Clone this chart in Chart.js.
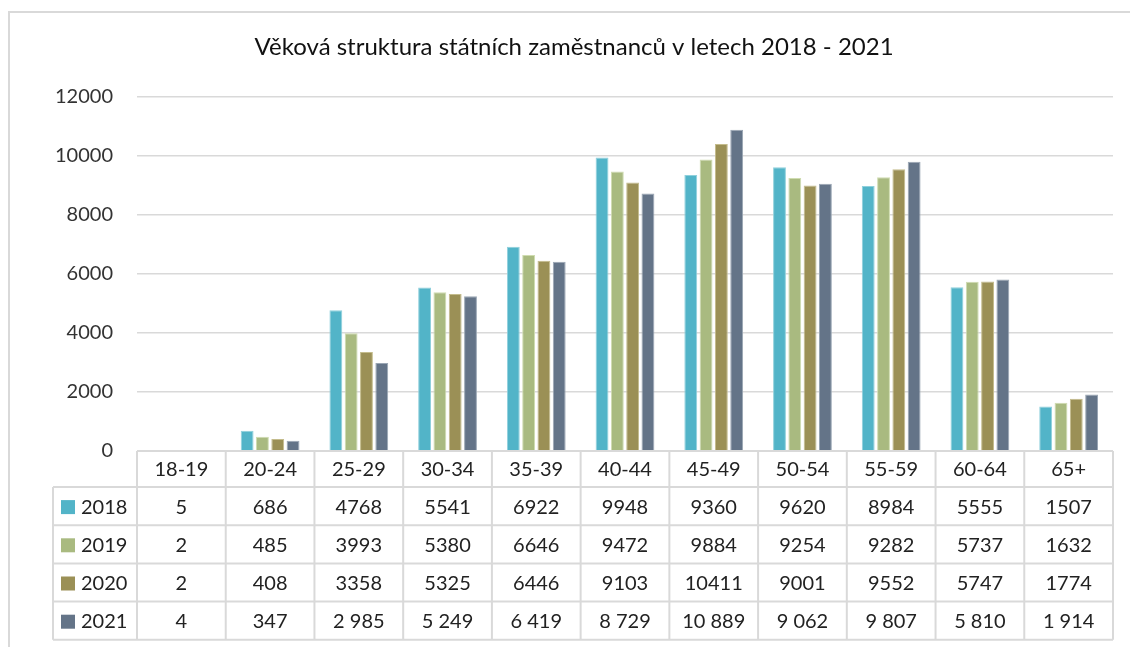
<!DOCTYPE html>
<html>
<head>
<meta charset="utf-8">
<script src="https://cdn.jsdelivr.net/npm/chart.js@4"></script>
<style>
  html, body { margin: 0; padding: 0; background: #fff; }
  #wrap { width: 1130px; height: 647px; position: relative; }
</style>
</head>
<body>
<div id="wrap"><canvas id="ageChart"></canvas></div>
<script>
const ageGroups = ['18-19', '20-24', '25-29', '30-34', '35-39', '40-44', '45-49', '50-54', '55-59', '60-64', '65+'];
const years = ['2018', '2019', '2020', '2021'];
const values2018 = [5, 686, 4768, 5541, 6922, 9948, 9360, 9620, 8984, 5555, 1507];
const values2019 = [2, 485, 3993, 5380, 6646, 9472, 9884, 9254, 9282, 5737, 1632];
const values2020 = [2, 408, 3358, 5325, 6446, 9103, 10411, 9001, 9552, 5747, 1774];
const values2021 = [4, 347, 2985, 5249, 6419, 8729, 10889, 9062, 9807, 5810, 1914];
const spacedYears = ['2021'];   // this row is printed with a space as thousands separator
const titleText = 'Věková struktura státních zaměstnanců v letech 2018 - 2021';

const colors = ['#52b4c8', '#a9ba80', '#9b9056', '#647488'];
const outlines = ['#8fd0dc', '#cfdcb0', '#c4bc8c', '#9aa6b4'];
const allValues = [values2018, values2019, values2020, values2021];

const FONT = "Lato, 'Noto Sans', sans-serif";
const lineColor = '#d9d9d9';

function spaced(v) {
    return String(v).replace(/\B(?=(\d{3})+(?!\d))/g, ' ');
}

// frame + title
const framePlugin = {
    id: 'frame',
    beforeDraw(chart) {
        const ctx = chart.ctx;
        ctx.save();
        ctx.strokeStyle = lineColor;
        ctx.lineWidth = 2;
        ctx.strokeRect(9, 12, 1200, 700);
        ctx.fillStyle = '#111';
        ctx.font = '24px ' + FONT;
        ctx.textAlign = 'center';
        ctx.textBaseline = 'middle';
        ctx.fillText(titleText, 574, 47);
        ctx.restore();
    }
};

// data table under the plot, Excel style
const tablePlugin = {
    id: 'dataTable',
    afterDraw(chart) {
        const ctx = chart.ctx;
        const area = chart.chartArea;
        const xs = chart.scales.x;
        const colW = (area.right - area.left) / ageGroups.length;
        const headerH = 36;
        const rowH = 38.2;
        const legendLeft = 53;
        const top = area.bottom;
        const bottom = top + headerH + rowH * years.length;

        ctx.save();
        ctx.strokeStyle = lineColor;
        ctx.lineWidth = 2;
        ctx.beginPath();
        ctx.moveTo(area.left, top);
        ctx.lineTo(area.right, top);
        for (let r = 0; r <= years.length; r++) {
            const y = top + headerH + r * rowH;
            ctx.moveTo(legendLeft, y);
            ctx.lineTo(area.right, y);
        }
        for (let c = 0; c <= ageGroups.length; c++) {
            const x = area.left + c * colW;
            ctx.moveTo(x, top);
            ctx.lineTo(x, bottom);
        }
        ctx.moveTo(legendLeft, top + headerH);
        ctx.lineTo(legendLeft, bottom);
        ctx.stroke();

        ctx.fillStyle = '#222';
        ctx.font = '20px ' + FONT;
        ctx.textAlign = 'center';
        ctx.textBaseline = 'middle';
        ageGroups.forEach((g, i) => {
            ctx.fillText(g, xs.getPixelForValue(i), top + headerH / 2 + 1);
        });

        years.forEach((yr, r) => {
            const cy = top + headerH + r * rowH + rowH / 2 + 1;
            ctx.fillStyle = colors[r];
            ctx.fillRect(61, cy - 7, 14, 14);
            ctx.fillStyle = '#222';
            ctx.textAlign = 'left';
            ctx.fillText(yr, 81, cy);
            ctx.textAlign = 'center';
            allValues[r].forEach((v, i) => {
                const txt = spacedYears.includes(yr) ? spaced(v) : String(v);
                ctx.fillText(txt, xs.getPixelForValue(i), cy);
            });
        });
        ctx.restore();
    }
};

new Chart(document.getElementById('ageChart'), {
    type: 'bar',
    data: {
        labels: ageGroups,
        datasets: years.map((yr, i) => ({
            label: yr,
            data: allValues[i],
            backgroundColor: colors[i],
            borderColor: outlines[i],
            borderWidth: 1,
            categoryPercentage: 0.69,
            barPercentage: 0.84,
        }))
    },
    options: {
        responsive: true,
        maintainAspectRatio: false,
        animation: false,
        layout: {
            padding: { top: 97, right: 17, bottom: 196, left: 0 }
        },
        scales: {
            x: {
                display: false,
            },
            y: {
                min: 0,
                max: 12000,
                afterFit: (scale) => { scale.width = 137; },
                ticks: {
                    stepSize: 2000,
                    padding: 24,
                    color: '#333',
                    font: { size: 20, family: FONT },
                    callback: (v) => String(v)
                },
                grid: {
                    color: lineColor,
                    lineWidth: 1.5,
                    drawTicks: false,
                },
                border: { display: false }
            }
        },
        plugins: {
            legend: { display: false },
            title: { display: false },
            tooltip: { enabled: false }
        }
    },
    plugins: [framePlugin, tablePlugin]
});
</script>
</body>
</html>
